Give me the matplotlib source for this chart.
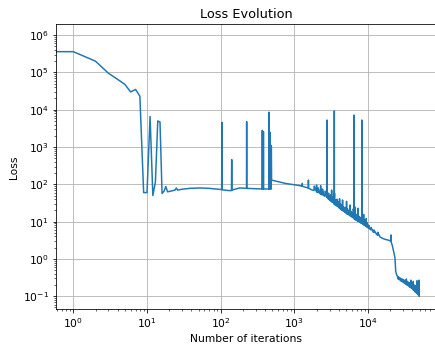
import numpy as np
import matplotlib.pyplot as plt

plt.rcParams['font.size'] = 10.7

# loss values (iteration, loss)
iterations = [0, 1, 2, 3, 4, 5, 6, 7, 8, 9, 10, 11, 12, 13, 14, 15, 16, 17, 18, 19,
              21, 24, 25, 26, 30, 38, 52, 70, 98, 103, 104, 105, 130, 140, 141, 142,
              180, 224, 225, 226, 300, 366, 367, 368, 379, 380, 381, 450, 452, 453,
              466, 467, 468, 485, 486, 490, 600, 750, 1000, 1200, 1279, 1280, 1281,
              1400, 1549, 1550, 1551, 1700, 1850, 1851, 1999, 2000, 2001, 2100,
              2101, 2200, 2269, 2270, 2271, 2400, 2401, 2500, 2600, 2601, 2769, 2770,
              2771, 2900, 2901, 3000, 3100, 3101, 3199, 3200, 3201, 3300, 3301, 3400,
              3479, 3480, 3481, 3500, 3501, 3600, 3601, 3700, 3800, 3801, 3900, 3901,
              4000, 4100, 4101, 4102, 4200, 4201, 4300, 4400, 4401, 4500, 4501, 4502,
              4650, 4651, 4800, 4950, 4951, 5100, 5101, 5102, 5250, 5251, 5400, 5550,
              5551, 5700, 5701, 5702, 5850, 5851, 6000, 6150, 6151, 6300, 6301, 6400,
              6401, 6402, 6600, 6601, 6602, 6800, 6801, 7000, 7150, 7151, 7300, 7301,
              7302, 7500, 7501, 7700, 7900, 7901, 8100, 8101, 8200, 8201, 8202, 8500,
              8501, 8700, 8701, 8702, 8900, 8901, 9000, 9200, 9201, 9400, 9401, 9402,
              9700, 9701, 10000, 10200, 10201, 10500, 11000, 11001, 11700, 12000,
              12001, 13000, 13500, 13501, 14500, 16000, 17500, 18800, 20499, 20500,
              20501, 21300, 22000, 22700, 23200, 23700, 24500,
              25000, 25500, 26000, 26500, 27000, 27500, 28000, 28500, 29000, 29500,
              30000, 30500, 31000, 31500, 32000, 32500, 33000, 33500, 34000, 34500,
              35000, 35500, 36000, 36500, 37000, 37500, 38000, 38500, 39000, 39500,
              40000, 40500, 41000, 41500, 42000, 42500, 43000, 43500, 44000, 44500,
              45000, 45500, 46000, 46500, 47000, 47500, 48000, 48500, 49000, 49500]
loss = [3.6e5, 3.6e5, 2.0e5, 9.5e4, 6.5e4, 4.8e4, 3.0e4, 3.5e4, 2.3e4, 60, 60, 6.6e3,
        50, 115, 5.0e3, 4.7e3, 57, 65, 87, 63,
        66, 70, 80, 70, 74, 78, 80, 78, 73, 73, 4.6e3, 71, 68, 68, 460, 70,
        80, 78, 4.8e3, 78, 76, 75, 2.8e3, 75, 75, 2.6e3, 75, 75, 8.6e3, 75,
        75, 2.5e3, 75, 75, 1.1e3, 130, 118, 106, 97, 92, 89, 106, 89,
        84, 80, 130, 79, 72, 68, 90, 64, 96, 63, 60,
        80, 58, 56, 92, 55, 52, 75, 50, 48, 66, 45, 5.3e3,
        45, 40, 58, 38, 36, 52, 35, 70, 34, 33, 45, 31,
        30, 9.3e3, 30, 58, 29, 28, 38, 27, 26, 40, 25, 34,
        24, 23, 41, 23, 22, 30, 21, 20.5, 28, 20, 38, 20,
        19, 25, 18, 17.5, 24, 16.5, 35, 16.5, 16, 22, 15.5, 15,
        20, 14.5, 28, 14.5, 14, 19, 13.5, 13, 17, 12.5, 22, 12.2,
        7.2e3, 12.2, 11.5, 25, 11.5, 11, 16, 10.8, 10.5, 15, 10.3, 23,
        10.3, 10, 14, 9.7, 9.3, 13, 9.1, 12, 9.0, 5.3e3, 9.0, 8.6,
        12, 8.3, 15.6, 8.3, 8.1, 11, 8.0, 7.7, 10.5, 7.5, 12, 7.5,
        7.1, 9.5, 6.8, 6.6, 8, 6.4, 6.0, 7, 5.3, 5.1,
        6, 4.6, 4.3, 5.2, 3.9, 3.5, 3.3, 3.2, 3.0, 4.4,
        2.9, 2.3, 1.74, 1.3, 1.04, 0.46, 0.37,
        0.34, 0.29, 0.33, 0.28, 0.31, 0.26, 0.30, 0.25, 0.29, 0.24,
        0.28, 0.23, 0.27, 0.22, 0.26, 0.21, 0.29, 0.20, 0.25, 0.20,
        0.24, 0.19, 0.23, 0.18, 0.23, 0.17, 0.27, 0.17, 0.22, 0.16,
        0.21, 0.15, 0.25, 0.15, 0.20, 0.14, 0.19, 0.13, 0.19, 0.13,
        0.18, 0.12, 0.26, 0.12, 0.17, 0.11, 0.16, 0.11, 0.27, 0.10]

fig = plt.figure(figsize=(435 / 72, 350 / 72), dpi=72)
ax = fig.add_axes([56 / 435, 40.7 / 350, 381 / 435, 285 / 350])

ax.plot(iterations, loss, color='#1f77b4', linewidth=1.5)
ax.set_xscale('log')
ax.set_yscale('log')
ax.set_xlim(10 ** -0.235, 10 ** 4.935)
ax.set_ylim(10 ** -1.35, 10 ** 6.29)
ax.grid(True)

ax.set_xlabel('Number of iterations')
ax.set_ylabel('Loss')
ax.set_title('Loss Evolution')

fig.savefig('out.png', dpi=72)
